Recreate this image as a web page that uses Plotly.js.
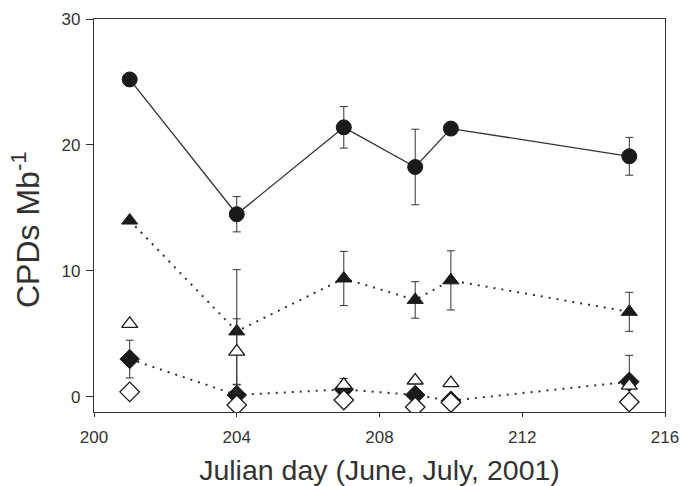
<!DOCTYPE html>
<html>
<head>
<meta charset="utf-8">
<script src="https://cdn.plot.ly/plotly-3.0.1.min.js"></script>
<style>html,body{margin:0;padding:0;background:#fff}#chart{width:680px;height:486px}</style>
</head>
<body>
<div id="chart"></div>
<script>
// Julian days
const days = [201, 204, 207, 209, 210, 215];

// Filled circles (solid line)
const circleVals = [25.2, 14.5, 21.4, 18.25, 21.3, 19.1];
const circleErr  = [0, 1.4, 1.65, 3.0, 0, 1.5];

// Filled triangles (dotted line)
const triFilledVals = [14.0, 5.2, 9.4, 7.7, 9.25, 6.75];
const triFilledErr  = [0, 4.9, 2.15, 1.45, 2.35, 1.55];

// Open triangles (no line)
const triOpenVals = [5.8, 3.6, 0.95, 1.3, 1.1, 0.9];
const triOpenErr  = [0, 2.6, 0.5, 0, 0, 0];

// Filled diamonds (dotted line)
const diaFilledVals = [3.0, 0.15, 0.6, 0.15, -0.3, 1.2];
const diaFilledErr  = [1.5, 0.8, 0.5, 0, 0, 2.1];

// Open diamonds (no line)
const diaOpenVals = [0.4, -0.65, -0.25, -0.8, -0.45, -0.4];

const xTicks = [200, 204, 208, 212, 216];
const yTicks = [0, 10, 20, 30];
const xTitle = 'Julian day (June, July, 2001)';
const yTitle = 'CPDs Mb<sup>-1</sup>';

const ink = '#1a1a1a';
const errStyle = (arr) => ({type: 'data', array: arr, visible: true, color: '#333', thickness: 1, width: 4});

const traces = [
  {
    x: days, y: diaFilledVals, mode: 'lines+markers', name: 'filled diamond',
    line: {color: '#333', width: 2, dash: '2px,6px'},
    marker: {symbol: 'diamond', size: 15, color: ink, line: {color: ink, width: 1}},
    error_y: errStyle(diaFilledErr)
  },
  {
    x: days, y: triFilledVals, mode: 'lines+markers', name: 'filled triangle',
    line: {color: '#333', width: 2, dash: '2px,6px'},
    marker: {symbol: 'triangle-up', size: 14, color: ink, line: {color: ink, width: 1}},
    error_y: errStyle(triFilledErr)
  },
  {
    x: days, y: circleVals, mode: 'lines+markers', name: 'circle',
    line: {color: '#333', width: 1.3},
    marker: {symbol: 'circle', size: 15, color: ink, line: {color: ink, width: 1}},
    error_y: errStyle(circleErr)
  },
  {
    x: days, y: triOpenVals, mode: 'markers', name: 'open triangle',
    marker: {symbol: 'triangle-up', size: 14, color: '#fff', line: {color: ink, width: 1.3}},
    error_y: errStyle(triOpenErr)
  },
  {
    x: days, y: diaOpenVals, mode: 'markers', name: 'open diamond',
    marker: {symbol: 'diamond', size: 15, color: '#fff', line: {color: ink, width: 1.3}}
  }
];

const L = 94, R = 15, T = 19, B = 74, W = 680, H = 486;

const layout = {
  width: W, height: H,
  margin: {l: L, r: R, t: T, b: B},
  paper_bgcolor: '#fff', plot_bgcolor: '#fff',
  showlegend: false,
  font: {family: 'Liberation Sans, Arial, sans-serif', color: '#333'},
  xaxis: {
    range: [200, 216], tickvals: xTicks, ticktext: xTicks.map(String),
    showgrid: false, zeroline: false,
    showline: true, linecolor: '#333', linewidth: 1.2, mirror: true,
    ticks: 'outside', ticklen: 4, tickcolor: '#333',
    ticklabelstandoff: 5,
    tickfont: {size: 17, color: '#333'},
    title: {text: xTitle, font: {size: 28.5, color: '#333'}, standoff: 15}
  },
  yaxis: {
    range: [-1.2, 30], tickvals: yTicks, ticktext: yTicks.map(String),
    showgrid: false, zeroline: false,
    showline: true, linecolor: '#333', linewidth: 1.2, mirror: true,
    ticks: 'outside', ticklen: 7, tickcolor: '#333',
    tickfont: {size: 17, color: '#333'},
    ticklabelstandoff: 2
  },
  annotations: [{
    text: yTitle, xref: 'paper', yref: 'paper',
    x: (26 - L) / (W - L - R), y: (H - B - 230) / (H - B - T),
    xanchor: 'center', yanchor: 'middle', textangle: -90, showarrow: false,
    font: {size: 32, color: '#333'}
  }]
};

Plotly.newPlot('chart', traces, layout, {displayModeBar: false, staticPlot: true});
</script>
</body>
</html>
